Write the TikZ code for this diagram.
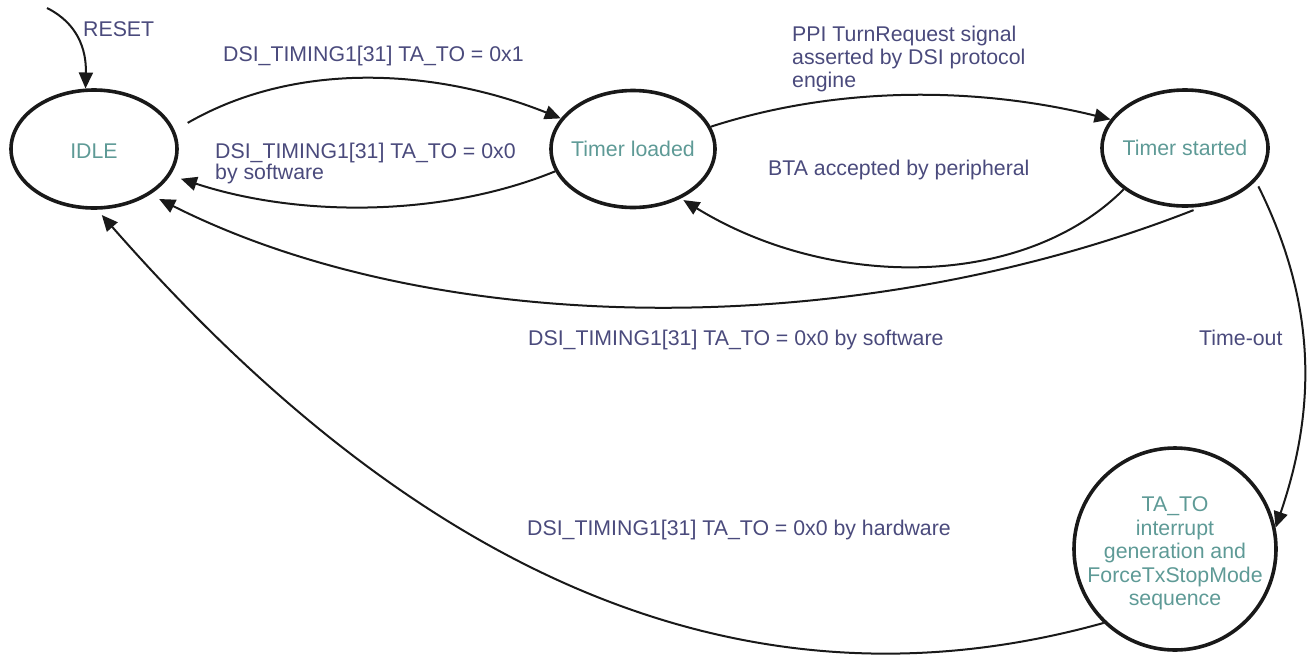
\documentclass[tikz,border=0pt]{standalone}
\usepackage{fontspec}
\setmainfont{Liberation Sans}
\usetikzlibrary{arrows.meta,shapes.geometric}
\definecolor{lbl}{HTML}{4A4A7C}
\definecolor{stt}{HTML}{5E9A96}
\begin{document}
\begin{tikzpicture}[x=1pt,y=-1pt,
  state/.style={ellipse,draw=black!90,line width=3.6pt,inner sep=0pt,text=stt,font=\fontsize{21.3}{23.5}\selectfont},
  lab/.style={anchor=base west,inner sep=0pt,text=lbl,font=\fontsize{21.3}{21}\selectfont,align=left},
  conn/.style={draw=black!90,line width=2pt,-{Triangle[length=16pt,width=14pt]}}]
\useasboundingbox (0,0) rectangle (1307,654);
% states
\node[state,minimum width=166pt,minimum height=118pt] (idle) at (94,149) {\makebox[0pt]{\raisebox{-2pt}[\height][\depth]{IDLE}}};
\node[state,minimum width=164pt,minimum height=117pt] (loaded) at (633,149) {\makebox[0pt]{Timer loaded}};
\node[state,minimum width=166pt,minimum height=116pt] (started) at (1185,148) {\makebox[0pt]{Timer started}};
\node[state,minimum width=202pt,minimum height=202pt] (tato) at (1175,549)
  {\makebox[0pt]{\raisebox{-5pt}[\height][\depth]{\begin{tabular}{@{}c@{}}TA\_TO\\interrupt\\generation and\\ForceTxStopMode\\sequence\end{tabular}}}};
% connectors
\coordinate (rs) at (47,8);
\draw[conn] (rs) .. controls +(30,15) and +(1,-40) .. (idle.98);
\draw[conn,shorten <=15pt] (idle.13) .. controls +(125,-72) and +(-120,-48) .. (loaded.157);
\draw[conn,shorten >=11pt] (loaded.196) .. controls +(-110,45) and +(131,43) .. (idle.341);
\draw[conn] (loaded.16) .. controls +(130,-42) and +(-130,-32) .. (started.159);
\draw[conn,shorten >=3pt] (started.214) .. controls +(-100,100) and +(150,92) .. (loaded.314);
\draw[conn,shorten <=10pt,shorten >=10pt] (started.287) .. controls +(-347,136) and +(288,145) .. (idle.321);
\draw[conn,shorten <=6pt] (started.335) .. controls +(61,123) and +(41,-120) .. (tato.12);
\draw[conn,shorten >=7pt] (tato.226) .. controls +(-395,110) and +(285,325) .. (idle.273);
% labels
\node[lab] (l0) at (83,36.7) {RESET};
\node[lab] (l1) at (223,61.7) {DSI\_TIMING1[31] TA\_TO = 0x1};
\node[lab] (l2) at (215,179) {DSI\_TIMING1[31] TA\_TO = 0x0\\by software};
\node[lab,font=\fontsize{21.3}{23}\selectfont] (l3) at (792,87.7) {PPI TurnRequest signal\\asserted by DSI protocol\\engine};
\node[lab] (l4) at (768,175) {BTA accepted by peripheral};
\node[lab] (l5) at (528,345) {DSI\_TIMING1[31] TA\_TO = 0x0 by software};
\node[lab] (l6) at (1199,345) {Time-out};
\node[lab] (l7) at (527,535) {DSI\_TIMING1[31] TA\_TO = 0x0 by hardware};
\end{tikzpicture}
\end{document}
